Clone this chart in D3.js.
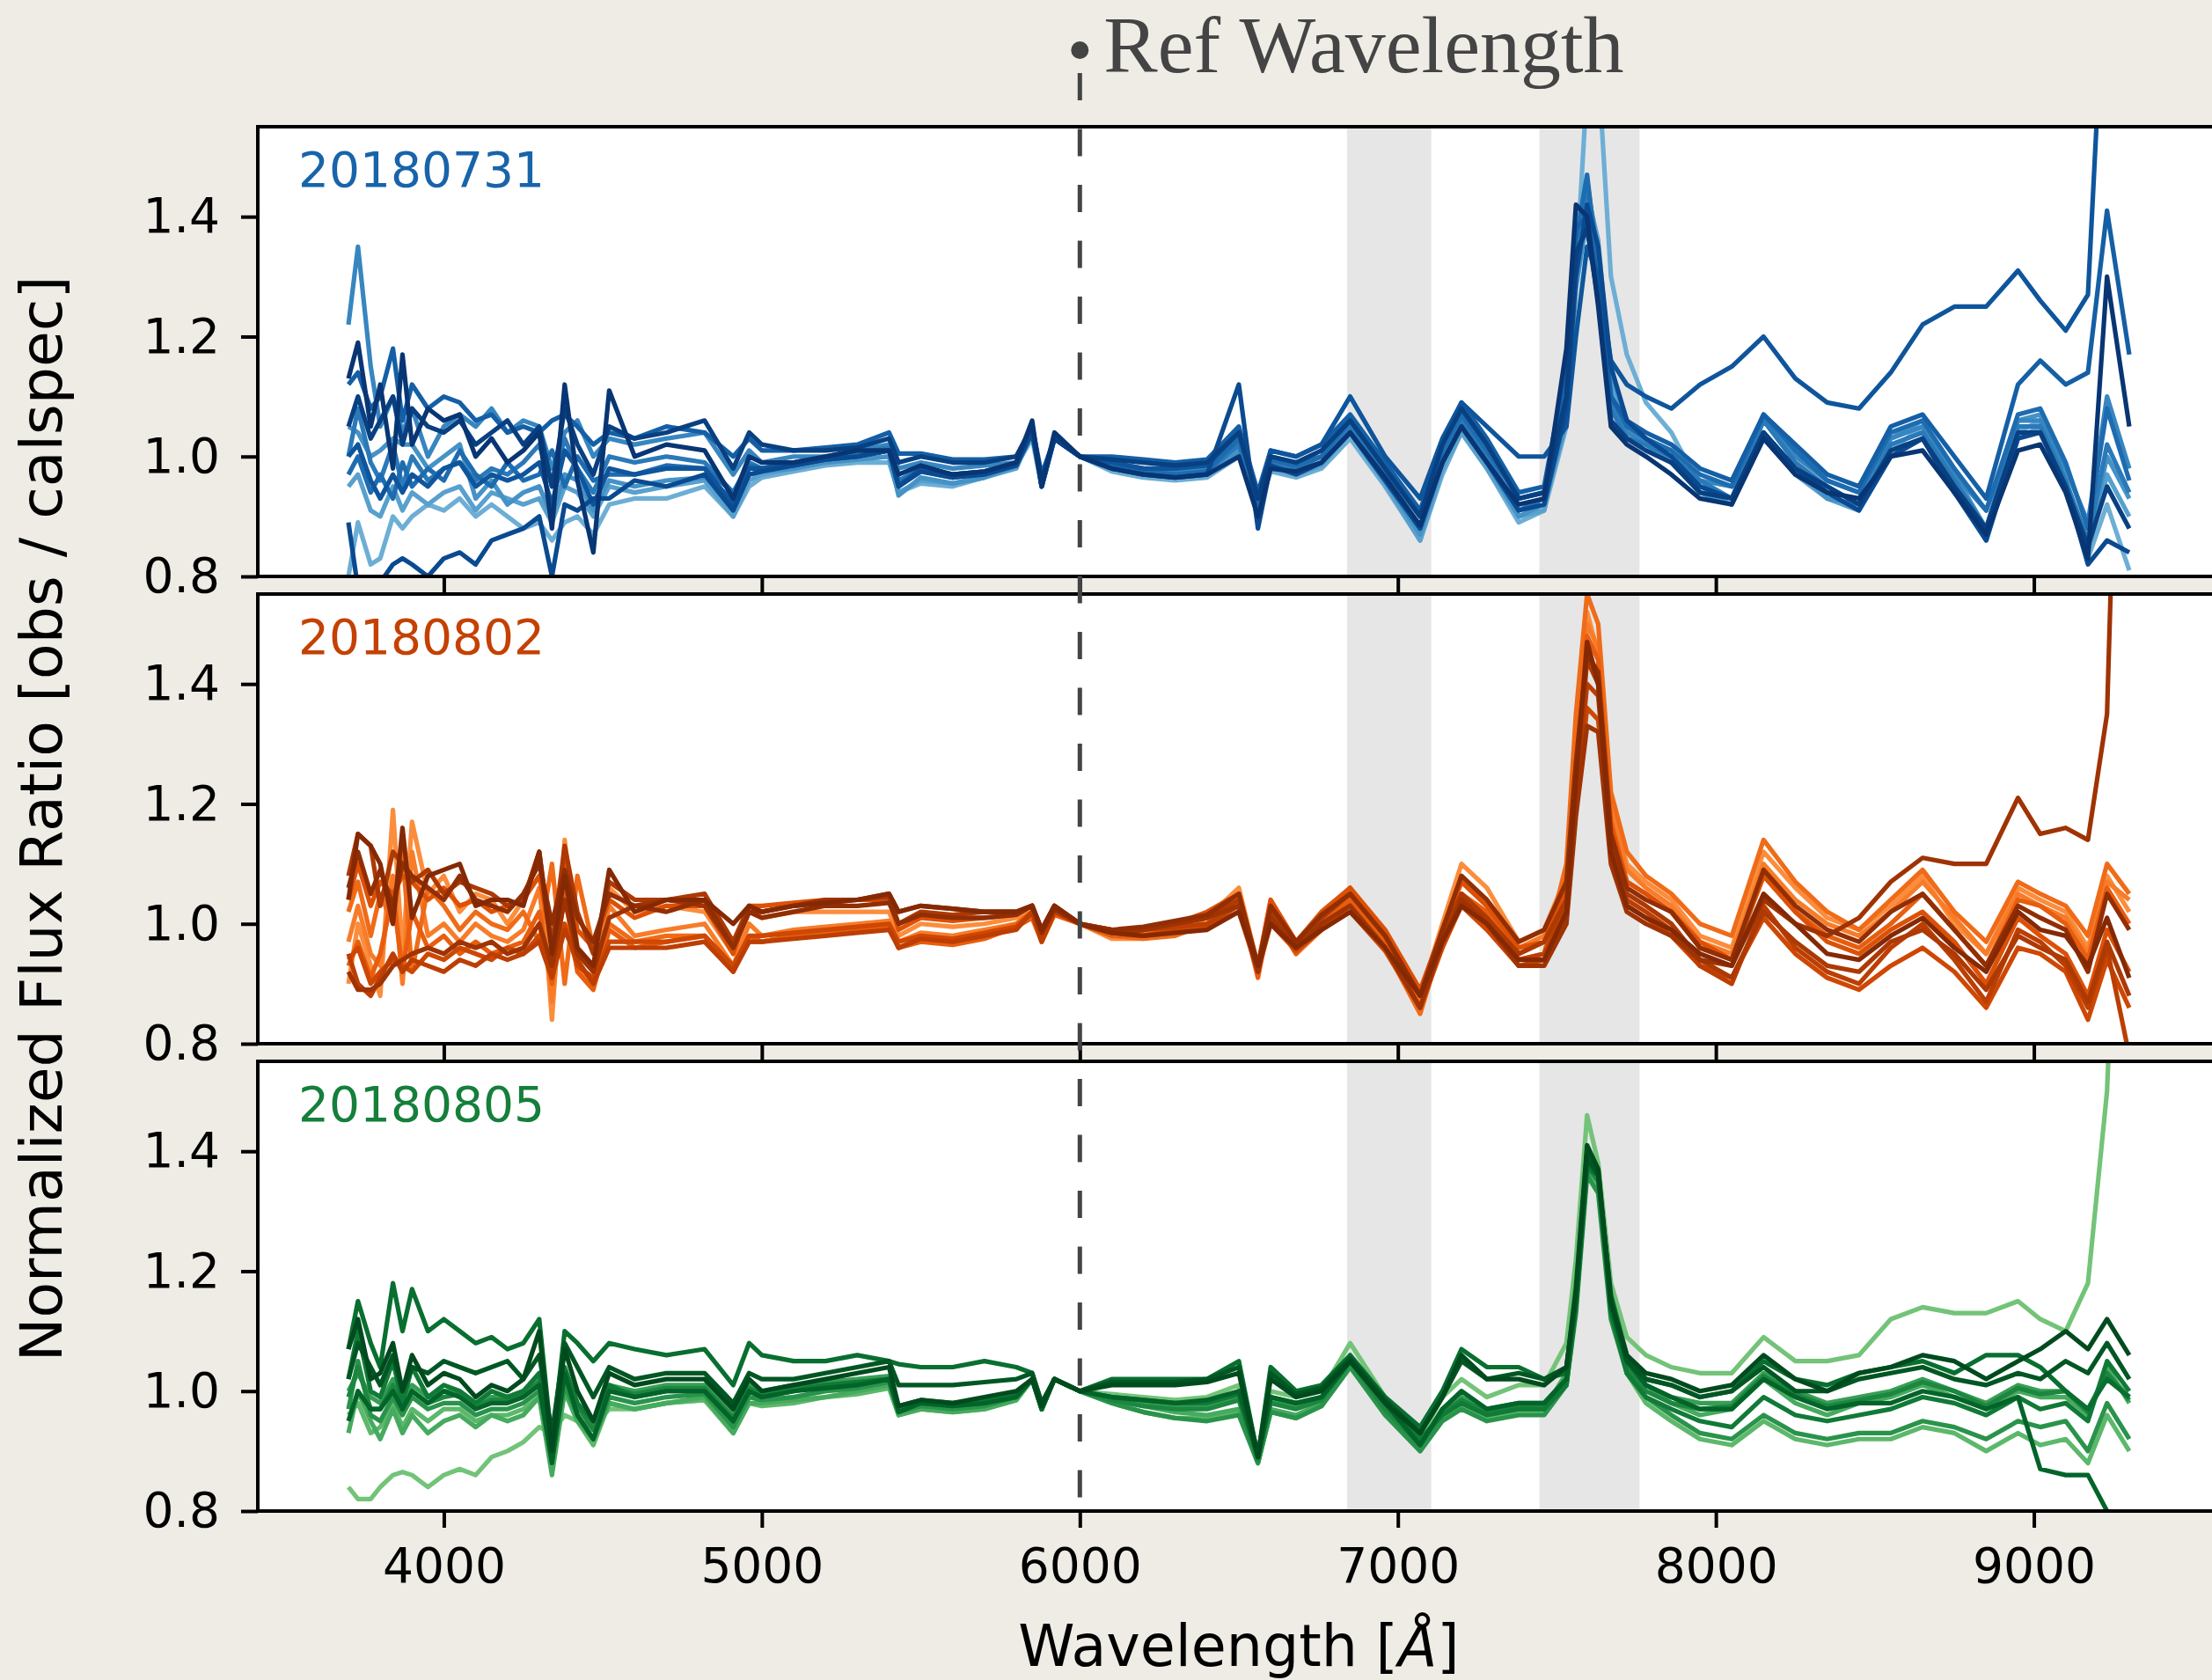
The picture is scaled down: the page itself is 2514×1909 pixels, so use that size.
<!DOCTYPE html>
<html><head><meta charset="utf-8">
<script src="https://cdn.jsdelivr.net/npm/d3@7"></script>
<style>html,body{margin:0;padding:0;background:#efece6;} svg{display:block;}</style>
</head><body>
<svg id="chart" width="2514" height="1909"></svg>
<script>
// ---------------- DATA ----------------
const wavelengths = [3700,3730,3770,3800,3840,3870,3900,3950,4000,4050,
  4100,4150,4200,4250,4300,4340,4380,4420,4470,4520,
  4600,4700,4820,4910,4960,5000,5100,5200,5300,5400,
  5430,5500,5600,5700,5800,5850,5880,5920,6000,6100,
  6200,6300,6400,6500,6560,6600,6680,6760,6850,6960,
  7070,7140,7200,7280,7380,7460,7530,7560,7595,7630,
  7670,7720,7780,7860,7950,8050,8150,8250,8350,8450,
  8550,8650,8750,8850,8950,9020,9100,9170,9230,9300];

const nights = ["20180731", "20180802", "20180805"];
const xTicks = [4000, 5000, 6000, 7000, 8000, 9000];
const yTicks = [0.8, 1.0, 1.2, 1.4];
const refWavelength = 6000;
const telluricBands = [[6840, 7105], [7445, 7760]];
const seriesShade = [0.50, 0.56, 0.62, 0.67, 0.72, 0.77, 0.82, 0.86, 0.90, 0.94, 0.98];

const ratio20180731 = [
 [0.80,0.89,0.82,0.83,0.90,0.88,0.90,0.92,0.91,0.93, 0.90,0.92,0.90,0.88,0.89,0.86,0.89,0.90,0.87,0.92,
  0.93,0.93,0.95,0.90,0.95,0.965,0.975,0.985,0.99,0.99, 0.94,0.955,0.95,0.965,0.985,1.03,0.95,1.03,1.00,0.975,
  0.965,0.96,0.965,1.00,0.91,0.975,0.965,0.98,1.03,0.95, 0.86,0.97,1.04,0.98,0.89,0.91,1.05,1.30,1.62,1.65,
  1.30,1.17,1.09,1.04,0.95,0.93,1.04,0.98,0.93,0.91, 1.01,1.05,0.95,0.86,1.04,1.06,0.95,0.83,0.92,0.81],
 [0.95,0.97,0.91,0.90,0.95,0.91,0.94,0.92,0.94,0.95, 0.91,0.94,0.93,0.92,0.93,0.89,0.95,0.94,0.90,0.95,
  0.94,0.95,0.96,0.90,0.96,0.97,0.98,0.99,0.995,1.00, 0.94,0.96,0.955,0.965,0.98,1.04,0.95,1.03,1.00,0.98,
  0.97,0.965,0.97,1.01,0.91,0.98,0.97,0.985,1.04,0.955, 0.86,0.98,1.04,0.98,0.90,0.91,1.08,1.30,1.44,1.36,
  1.12,1.05,1.02,0.99,0.94,0.92,1.03,0.97,0.93,0.91, 1.00,1.03,0.95,0.87,1.03,1.05,0.95,0.84,0.97,0.90],
 [1.05,1.04,1.00,1.01,1.03,1.02,1.02,0.98,1.00,1.02, 0.93,0.96,0.92,0.94,0.95,0.90,0.97,0.96,0.91,0.96,
  0.95,0.96,0.965,0.93,0.97,0.975,0.98,0.99,0.995,1.00, 0.935,0.965,0.955,0.965,0.985,1.05,0.95,1.035,1.00,0.98,
  0.97,0.965,0.97,1.01,0.91,0.985,0.975,0.99,1.04,0.96, 0.87,0.99,1.05,0.99,0.90,0.92,1.06,1.28,1.40,1.34,
  1.14,1.06,1.02,0.99,0.94,0.92,1.04,0.98,0.93,0.92, 1.03,1.06,0.97,0.88,1.06,1.07,0.96,0.85,1.00,0.93],
 [1.22,1.35,1.15,1.05,1.10,1.04,1.08,1.00,1.05,1.07, 1.05,1.08,1.04,1.06,1.05,0.98,1.04,1.06,1.00,1.03,
  1.02,1.03,1.04,0.97,1.01,0.99,1.00,1.00,1.01,1.02, 0.98,0.99,0.98,0.985,0.99,1.04,0.96,1.03,1.00,0.99,
  0.98,0.975,0.98,1.03,0.93,1.00,0.99,1.00,1.05,0.975, 0.90,1.01,1.07,1.01,0.93,0.94,1.10,1.32,1.46,1.33,
  1.09,1.04,1.02,1.00,0.96,0.95,1.06,1.00,0.96,0.94, 1.03,1.05,0.97,0.91,1.06,1.06,0.98,0.89,1.10,0.98],
 [1.00,1.08,0.99,0.96,1.02,0.95,1.00,0.96,0.98,0.99, 0.96,0.98,0.97,0.99,1.02,0.95,1.03,0.98,0.94,1.00,
  0.99,1.00,0.99,0.94,0.99,0.98,0.99,1.00,1.005,1.015, 0.96,0.98,0.97,0.975,0.99,1.05,0.95,1.03,1.00,0.99,
  0.975,0.97,0.975,1.02,0.92,0.99,0.98,1.00,1.05,0.97, 0.88,1.00,1.06,1.00,0.91,0.93,1.12,1.36,1.45,1.30,
  1.08,1.03,1.02,1.00,0.96,0.93,1.06,0.99,0.95,0.92, 1.02,1.04,0.96,0.88,1.05,1.05,0.96,0.86,1.02,0.94],
 [0.97,1.00,0.94,0.97,0.93,0.99,0.95,0.98,0.96,1.01, 0.97,0.95,0.99,0.96,0.97,1.01,0.95,1.00,0.96,0.97,
  0.97,0.985,0.98,0.94,0.985,0.98,0.99,0.995,1.00,1.01, 0.955,0.975,0.965,0.975,0.99,1.05,0.96,1.03,1.00,0.985,
  0.975,0.97,0.975,1.03,0.92,0.995,0.985,1.00,1.06,0.98, 0.90,1.01,1.07,1.01,0.93,0.94,1.12,1.36,1.47,1.31,
  1.10,1.05,1.03,1.01,0.97,0.95,1.07,1.01,0.96,0.94, 1.04,1.06,0.98,0.91,1.07,1.08,0.99,0.88,1.08,0.96],
 [1.12,1.14,1.08,1.10,1.18,1.06,1.12,1.08,1.10,1.09, 1.06,1.07,1.04,1.05,1.04,1.06,1.07,1.05,1.02,1.04,
  1.03,1.05,1.04,1.00,1.03,1.01,1.01,1.015,1.02,1.04, 1.005,1.005,0.995,0.995,1.00,1.05,0.97,1.03,1.00,1.00,
  0.995,0.99,0.995,1.05,0.94,1.01,1.00,1.02,1.07,0.99, 0.91,1.02,1.09,1.03,0.94,0.95,1.15,1.38,1.40,1.28,
  1.10,1.06,1.04,1.02,0.98,0.96,1.07,1.02,0.97,0.95, 1.05,1.07,1.00,0.93,1.12,1.16,1.12,1.14,1.41,1.17],
 [1.00,1.02,0.96,0.93,0.97,0.94,0.97,0.95,0.98,0.99, 0.95,0.97,0.96,0.97,0.99,0.92,1.01,0.98,0.92,0.98,
  0.97,0.98,0.98,0.92,0.98,0.98,0.985,0.995,1.00,1.01, 0.95,0.98,0.97,0.975,0.985,1.04,0.96,1.03,1.00,0.99,
  0.98,0.98,0.985,1.04,0.93,1.01,1.00,1.02,1.10,1.00, 0.93,1.03,1.09,1.05,1.00,1.00,1.05,1.20,1.35,1.30,
  1.16,1.12,1.10,1.08,1.12,1.15,1.20,1.13,1.09,1.08, 1.14,1.22,1.25,1.25,1.31,1.26,1.21,1.27,1.90,2.20],
 [0.89,0.78,0.76,0.79,0.82,0.83,0.82,0.80,0.83,0.84, 0.82,0.86,0.87,0.88,0.90,0.80,0.92,0.91,0.93,0.93,
  0.96,0.95,0.97,0.91,0.97,0.975,0.985,0.995,1.00,1.01, 0.95,0.975,0.965,0.97,0.985,1.04,0.95,1.03,1.00,0.98,
  0.97,0.965,0.97,1.12,0.88,0.985,0.97,0.99,1.04,0.96, 0.88,0.99,1.05,0.99,0.91,0.92,1.08,1.30,1.42,1.35,
  1.15,1.06,1.03,1.00,0.95,0.93,1.04,0.98,0.94,0.91, 1.00,1.03,0.94,0.86,1.03,1.04,0.95,0.82,0.86,0.84],
 [1.05,1.10,1.03,1.06,1.10,1.02,1.08,1.05,1.04,1.06, 1.02,1.04,1.06,1.02,1.05,0.95,1.08,1.02,0.97,1.05,
  1.03,1.04,1.06,0.98,1.04,1.02,1.01,1.01,1.015,1.03, 0.99,1.00,0.99,0.99,1.00,1.05,0.96,1.03,1.00,0.995,
  0.99,0.985,0.99,1.04,0.93,1.00,0.99,1.01,1.06,0.98, 0.90,1.02,1.08,1.02,0.93,0.94,1.10,1.34,1.38,1.26,
  1.06,1.03,1.01,0.99,0.94,0.93,1.04,0.98,0.95,0.92, 1.01,1.03,0.95,0.88,1.04,1.04,0.95,0.85,0.95,0.88],
 [1.13,1.19,1.05,1.12,0.98,1.17,1.02,1.08,1.06,1.07, 1.00,1.03,0.99,1.01,1.04,0.88,1.12,0.96,0.84,1.11,
  1.00,1.02,1.01,0.93,1.00,0.99,0.99,1.00,1.01,1.01, 0.97,0.985,0.97,0.975,0.99,1.06,0.95,1.04,1.00,0.98,
  0.97,0.965,0.97,1.00,0.90,0.98,0.975,0.99,1.04,0.965, 0.885,0.99,1.05,0.99,0.92,0.93,1.18,1.42,1.40,1.25,
  1.05,1.02,1.00,0.97,0.93,0.92,1.03,0.97,0.94,0.93, 1.00,1.01,0.94,0.87,1.01,1.02,0.94,0.83,1.30,1.05]
];

const ratio20180802 = [
 [0.90,1.00,0.93,0.88,1.19,0.95,1.17,1.05,1.08,1.02, 1.05,1.04,1.00,1.04,1.12,0.84,1.14,0.96,0.93,1.06,
  1.02,1.03,1.02,0.95,1.02,1.01,1.02,1.02,1.02,1.02, 0.98,1.00,0.995,1.00,1.01,1.02,0.98,1.02,1.00,0.975,
  0.975,0.985,1.01,1.06,0.93,1.04,0.96,1.01,1.06,0.98, 0.88,1.00,1.10,1.06,0.97,0.99,1.08,1.30,1.52,1.45,
  1.20,1.10,1.07,1.04,0.98,0.96,1.12,1.06,1.01,0.99, 1.03,1.08,1.00,0.95,1.06,1.04,1.02,0.96,1.08,1.02],
 [0.97,1.03,0.95,0.93,1.08,0.90,1.12,0.98,1.00,0.97, 1.00,0.98,0.97,0.99,1.06,0.87,1.07,0.93,0.90,1.03,
  0.98,0.99,1.00,0.93,1.00,0.98,0.99,0.995,1.00,1.005, 0.97,0.985,0.98,0.99,1.00,1.02,0.975,1.02,1.00,0.98,
  0.985,0.99,1.01,1.05,0.92,1.03,0.96,1.00,1.05,0.97, 0.87,0.98,1.07,1.03,0.96,0.98,1.07,1.28,1.50,1.46,
  1.19,1.09,1.06,1.03,0.97,0.95,1.10,1.04,1.00,0.98, 1.02,1.07,1.01,0.95,1.05,1.03,1.01,0.95,1.07,1.04],
 [1.02,1.07,0.98,1.05,1.00,1.12,0.92,1.06,1.03,0.99, 1.02,1.00,0.99,1.02,0.97,1.10,0.90,1.08,0.96,1.00,
  0.97,0.98,0.98,0.93,0.97,0.97,0.98,0.985,0.99,0.995, 0.96,0.975,0.975,0.985,1.00,1.02,0.975,1.02,1.00,0.98,
  0.975,0.98,1.00,1.04,0.92,1.02,0.95,0.99,1.03,0.96, 0.85,0.97,1.05,1.01,0.94,0.95,1.10,1.35,1.55,1.50,
  1.22,1.12,1.08,1.05,1.00,0.98,1.14,1.07,1.02,0.99, 1.04,1.09,1.02,0.97,1.07,1.05,1.03,0.98,1.10,1.05],
 [0.93,0.97,0.91,0.95,1.05,0.92,1.02,0.96,0.98,0.95, 0.97,0.95,0.96,0.97,1.02,0.90,1.05,0.92,0.89,0.99,
  0.96,0.97,0.98,0.92,0.98,0.97,0.98,0.99,0.99,0.995, 0.96,0.97,0.965,0.975,0.995,1.01,0.97,1.015,1.00,0.98,
  0.98,0.985,1.00,1.04,0.91,1.02,0.95,1.00,1.04,0.97, 0.86,0.97,1.05,1.02,0.95,0.97,1.04,1.22,1.48,1.44,
  1.17,1.07,1.05,1.02,0.96,0.94,1.08,1.02,0.98,0.96, 1.00,1.05,0.99,0.93,1.04,1.03,1.00,0.94,1.06,1.00],
 [1.04,1.10,1.03,1.07,1.05,1.08,1.07,1.04,1.06,1.03, 1.04,1.02,1.03,1.04,1.08,0.97,1.10,0.99,0.96,1.04,
  1.01,1.03,1.03,0.95,1.03,1.03,1.035,1.04,1.04,1.04, 0.99,1.01,1.005,1.01,1.015,1.03,0.98,1.02,1.00,0.985,
  0.99,1.00,1.02,1.05,0.93,1.04,0.97,1.02,1.06,0.99, 0.89,0.99,1.07,1.03,0.96,0.97,1.06,1.26,1.47,1.40,
  1.16,1.07,1.05,1.02,0.97,0.94,1.08,1.02,0.97,0.95, 0.99,1.02,0.97,0.90,1.01,0.98,0.95,0.88,0.99,0.92],
 [0.94,0.96,0.90,0.92,0.94,0.93,0.92,0.95,0.94,0.96, 0.95,0.94,0.96,0.95,0.98,0.92,1.00,0.93,0.91,0.97,
  0.97,0.97,0.98,0.93,0.98,0.98,0.985,0.99,0.995,1.00, 0.97,0.98,0.975,0.985,0.995,1.02,0.975,1.02,1.00,0.985,
  0.98,0.99,0.995,1.02,0.92,1.00,0.955,0.99,1.02,0.955, 0.86,0.96,1.03,0.99,0.93,0.94,1.01,1.19,1.36,1.34,
  1.11,1.03,1.01,0.98,0.93,0.91,1.01,0.95,0.91,0.89, 0.93,0.96,0.92,0.86,0.96,0.95,0.92,0.84,0.94,0.86],
 [0.95,0.90,0.88,0.91,0.95,0.92,0.94,0.93,0.92,0.94, 0.93,0.95,0.94,0.95,0.97,0.91,0.99,0.94,0.90,0.96,
  0.96,0.96,0.97,0.92,0.97,0.97,0.975,0.98,0.985,0.99, 0.96,0.975,0.97,0.98,0.99,1.02,0.97,1.02,1.00,0.99,
  0.99,0.995,1.00,1.03,0.92,1.02,0.96,1.00,1.03,0.96, 0.86,0.97,1.04,1.00,0.94,0.95,1.03,1.20,1.40,1.38,
  1.14,1.04,1.02,0.99,0.93,0.90,1.03,0.96,0.92,0.90, 0.96,1.00,0.94,0.87,0.99,0.97,0.93,0.86,0.96,0.78],
 [1.08,1.15,1.13,1.03,1.12,1.10,1.07,1.09,1.05,1.07, 1.06,1.05,1.03,1.04,1.12,0.96,1.13,1.02,0.95,1.07,
  1.04,1.04,1.05,0.97,1.03,1.02,1.03,1.035,1.04,1.045, 1.00,1.02,1.015,1.02,1.02,1.03,0.99,1.03,1.00,0.99,
  0.99,1.00,1.01,1.04,0.93,1.02,0.97,1.01,1.05,0.98, 0.88,0.98,1.05,1.01,0.95,0.97,1.04,1.22,1.44,1.40,
  1.13,1.05,1.03,1.00,0.94,0.91,1.02,0.97,0.93,0.92, 0.97,0.99,0.95,0.89,0.98,0.96,0.94,0.87,0.97,0.88],
 [0.92,0.89,0.89,0.90,0.93,0.94,0.95,0.96,0.95,0.97, 0.96,0.97,0.95,0.96,1.00,0.93,1.04,0.95,0.92,1.01,
  1.03,1.04,1.03,0.96,1.02,1.02,1.03,1.04,1.04,1.05, 1.02,1.03,1.025,1.02,1.02,1.03,0.99,1.03,1.00,0.985,
  0.99,1.00,1.01,1.03,0.92,1.01,0.96,1.00,1.03,0.96, 0.86,0.97,1.04,1.00,0.93,0.93,1.00,1.18,1.33,1.32,
  1.10,1.02,1.00,0.98,0.94,0.93,1.04,1.00,0.98,1.01, 1.07,1.11,1.10,1.10,1.21,1.15,1.16,1.14,1.35,2.60],
 [1.06,1.12,1.05,1.09,1.03,1.10,1.08,1.06,1.04,1.08, 1.04,1.03,1.02,1.05,1.10,1.00,1.09,1.01,0.97,1.05,
  1.03,1.02,1.04,0.96,1.02,1.01,1.02,1.03,1.03,1.035, 1.00,1.015,1.01,1.01,1.015,1.03,0.985,1.025,1.00,0.99,
  0.995,1.005,1.015,1.05,0.93,1.03,0.97,1.015,1.05,0.98, 0.88,0.99,1.08,1.04,0.97,0.99,1.07,1.27,1.45,1.42,
  1.15,1.06,1.04,1.02,0.96,0.94,1.09,1.03,0.99,0.97, 1.02,1.05,0.99,0.93,1.03,1.01,0.99,0.92,1.05,0.99],
 [1.04,1.15,1.13,1.10,1.00,1.16,1.01,1.08,1.09,1.10, 1.03,1.04,1.04,1.03,1.12,0.95,1.08,0.96,0.93,1.09,
  1.02,1.04,1.04,1.00,1.03,1.02,1.03,1.035,1.04,1.05, 1.02,1.03,1.025,1.02,1.02,1.03,0.99,1.03,1.00,0.985,
  0.98,0.985,0.99,1.02,0.93,1.00,0.96,0.99,1.02,0.96, 0.88,0.97,1.03,1.00,0.94,0.94,1.02,1.24,1.47,1.40,
  1.12,1.03,1.01,0.99,0.95,0.93,1.05,1.00,0.95,0.94, 0.98,1.01,0.96,0.92,1.02,0.99,0.98,0.93,1.01,0.91]
];

const ratio20180805 = [
 [0.84,0.82,0.82,0.84,0.86,0.865,0.86,0.84,0.86,0.87, 0.86,0.89,0.90,0.915,0.94,0.93,0.96,0.95,0.94,0.97,
  0.97,0.98,0.985,0.94,0.99,0.985,0.99,1.00,1.005,1.01, 0.97,0.975,0.97,0.975,0.985,1.02,0.97,1.02,1.00,0.995,
  0.99,0.985,0.99,1.01,0.90,1.00,0.99,1.00,1.08,0.99, 0.92,0.99,1.02,0.99,1.01,1.01,1.08,1.22,1.46,1.38,
  1.18,1.09,1.06,1.04,1.03,1.03,1.09,1.05,1.05,1.06, 1.12,1.14,1.13,1.13,1.15,1.12,1.10,1.18,1.50,2.40],
 [0.96,0.98,0.93,0.94,0.98,0.94,0.97,0.95,0.97,0.97, 0.95,0.96,0.96,0.97,0.99,0.87,1.00,0.95,0.91,0.98,
  0.97,0.98,0.985,0.93,0.98,0.975,0.98,0.99,0.995,1.005, 0.96,0.97,0.965,0.97,0.985,1.02,0.97,1.02,1.00,0.98,
  0.965,0.955,0.955,0.965,0.88,0.965,0.955,0.975,1.04,0.965, 0.90,0.955,0.975,0.955,0.965,0.965,1.01,1.14,1.37,1.34,
  1.13,1.03,0.98,0.95,0.92,0.91,0.95,0.92,0.91,0.92, 0.92,0.94,0.93,0.90,0.93,0.91,0.92,0.88,0.96,0.90],
 [0.93,1.00,0.95,0.92,0.97,0.93,0.96,0.93,0.95,0.96, 0.94,0.96,0.95,0.96,0.99,0.86,1.00,0.95,0.92,0.98,
  0.97,0.98,0.99,0.93,0.98,0.98,0.985,0.99,1.00,1.01, 0.96,0.97,0.965,0.97,0.985,1.02,0.97,1.02,1.00,0.985,
  0.975,0.965,0.96,0.97,0.88,0.97,0.96,0.98,1.05,0.97, 0.91,0.96,0.99,0.96,0.97,0.97,1.03,1.18,1.40,1.36,
  1.14,1.05,1.01,0.98,0.96,0.97,1.02,0.98,0.96,0.98, 0.99,1.01,0.99,0.97,1.00,0.99,0.99,0.96,1.04,0.98],
 [1.00,1.03,0.99,0.98,1.02,0.99,1.01,0.99,1.00,1.00, 0.98,0.99,0.99,1.00,1.02,0.92,1.03,0.98,0.94,1.01,
  1.00,1.01,1.01,0.96,1.01,1.00,1.01,1.015,1.02,1.025, 0.97,0.98,0.975,0.98,0.99,1.02,0.97,1.02,1.00,0.99,
  0.98,0.975,0.975,0.99,0.89,0.985,0.975,0.99,1.05,0.975, 0.91,0.97,0.99,0.97,0.98,0.98,1.02,1.15,1.37,1.35,
  1.16,1.05,1.01,0.99,0.98,0.98,1.03,1.00,0.98,0.99, 1.00,1.02,1.00,0.98,1.01,1.00,1.00,0.97,1.03,0.99],
 [0.97,1.05,0.96,0.95,0.99,0.96,0.99,0.97,0.98,0.98, 0.96,0.97,0.97,0.98,1.00,0.89,1.01,0.96,0.92,0.99,
  0.98,0.99,0.995,0.94,0.99,0.985,0.99,1.00,1.005,1.015, 0.965,0.975,0.97,0.975,0.99,1.02,0.97,1.02,1.00,0.98,
  0.965,0.955,0.95,0.96,0.88,0.965,0.955,0.975,1.04,0.96, 0.90,0.95,0.97,0.95,0.96,0.96,1.01,1.13,1.36,1.33,
  1.12,1.03,0.99,0.96,0.93,0.92,0.96,0.93,0.92,0.93, 0.93,0.95,0.94,0.92,0.95,0.94,0.95,0.90,0.98,0.92],
 [0.99,1.04,0.97,0.97,1.01,0.97,1.00,0.98,0.99,0.995, 0.975,0.985,0.985,0.995,1.015,0.91,1.025,0.975,0.935,1.005,
  0.995,1.005,1.005,0.955,1.005,0.995,1.005,1.01,1.015,1.02, 0.97,0.98,0.975,0.98,0.99,1.02,0.97,1.02,1.00,0.985,
  0.975,0.97,0.97,0.985,0.885,0.98,0.97,0.985,1.05,0.97, 0.91,0.965,0.985,0.965,0.975,0.975,1.015,1.15,1.38,1.35,
  1.15,1.04,1.00,0.98,0.97,0.975,1.025,0.995,0.975,0.985, 0.995,1.015,1.00,0.975,1.005,0.995,1.00,0.965,1.03,0.985],
 [1.02,1.10,1.00,0.99,1.05,0.98,1.04,0.99,1.01,1.00, 0.98,1.00,0.99,1.00,1.03,0.91,1.04,0.98,0.95,1.01,
  0.99,1.00,1.00,0.95,1.00,0.99,1.00,1.01,1.015,1.02, 0.975,0.985,0.98,0.985,0.995,1.02,0.975,1.02,1.00,0.99,
  0.985,0.98,0.98,0.995,0.89,0.99,0.98,0.99,1.05,0.98, 0.92,0.96,0.98,0.96,0.97,0.97,1.01,1.14,1.37,1.36,
  1.13,1.03,0.99,0.97,0.95,0.94,0.99,0.96,0.95,0.96, 0.97,0.99,0.98,0.96,0.99,0.97,0.98,0.95,1.05,1.00],
 [1.07,1.15,1.08,1.04,1.18,1.10,1.17,1.10,1.12,1.10, 1.08,1.09,1.07,1.08,1.12,0.91,1.10,1.08,1.05,1.08,
  1.07,1.06,1.07,1.01,1.08,1.06,1.05,1.05,1.06,1.05, 1.045,1.04,1.04,1.05,1.04,1.03,0.98,1.02,1.00,1.02,
  1.02,1.02,1.02,1.05,0.89,1.04,1.00,1.01,1.06,0.99, 0.94,1.00,1.07,1.04,1.04,1.02,1.03,1.15,1.38,1.36,
  1.16,1.06,1.02,1.01,0.99,1.00,1.05,1.02,1.01,1.03, 1.04,1.05,1.03,1.06,1.06,1.04,1.00,0.97,1.02,0.99],
 [0.95,1.00,0.97,0.97,1.00,0.97,1.00,0.98,1.00,0.99, 0.97,0.98,0.98,0.99,1.01,0.88,1.03,0.96,0.92,1.00,
  0.99,1.00,1.00,0.95,1.00,0.99,1.00,1.005,1.01,1.02, 0.965,0.98,0.975,0.98,0.99,1.02,0.97,1.02,1.00,0.99,
  0.985,0.98,0.985,1.00,0.89,0.99,0.98,0.99,1.05,0.98, 0.91,0.97,1.00,0.97,0.98,0.98,1.02,1.16,1.40,1.37,
  1.14,1.05,1.01,0.99,0.97,0.97,1.02,0.99,0.97,0.98, 0.98,1.00,0.99,0.97,0.99,0.87,0.86,0.86,0.80,0.72],
 [1.02,1.08,1.04,1.01,1.06,1.00,1.04,1.03,1.05,1.04, 1.03,1.04,1.05,1.02,1.06,0.93,1.08,1.04,0.99,1.04,
  1.02,1.03,1.03,0.98,1.03,1.02,1.02,1.03,1.04,1.05, 1.01,1.01,1.01,1.015,1.02,1.03,0.98,1.02,1.00,1.015,
  1.015,1.015,1.02,1.04,0.89,1.03,0.995,1.005,1.055,0.985, 0.93,0.99,1.05,1.02,1.03,1.02,1.04,1.16,1.39,1.36,
  1.15,1.05,1.02,1.01,0.99,1.00,1.04,1.00,1.00,1.02, 1.03,1.04,1.02,1.01,1.03,1.02,1.05,1.03,1.08,1.02],
 [1.07,1.12,1.02,1.03,1.08,1.00,1.06,1.01,1.03,1.02, 0.99,1.01,1.00,1.02,1.10,0.90,1.07,1.00,0.95,1.03,
  1.01,1.02,1.02,0.97,1.02,1.00,1.01,1.02,1.03,1.04, 0.975,0.985,0.98,0.99,1.00,1.02,0.975,1.02,1.00,1.01,
  1.01,1.01,1.015,1.03,0.89,1.02,0.99,1.00,1.05,0.98, 0.93,0.99,1.06,1.02,1.02,1.01,1.04,1.17,1.41,1.37,
  1.15,1.06,1.03,1.02,1.00,1.01,1.06,1.02,1.00,1.03, 1.04,1.06,1.05,1.02,1.05,1.07,1.10,1.07,1.12,1.06]
];

const panels = [
  { night: nights[0], series: ratio20180731, cmap: d3.interpolateBlues },
  { night: nights[1], series: ratio20180802, cmap: d3.interpolateOranges },
  { night: nights[2], series: ratio20180805, cmap: d3.interpolateGreens }
];

// ---------------- LAYOUT ----------------
const W = 2514, H = 1909;
const plotLeft = 293, plotRight = 2523;
const panelTops = [144, 675, 1206], panelH = 511;
const font = "DejaVu Sans";

const svg = d3.select("#chart");
svg.append("rect").attr("width", W).attr("height", H).attr("fill", "#efece6");

const x = d3.scaleLinear().domain([3415, 9585]).range([plotLeft, plotRight]);

panels.forEach((p, i) => {
  const top = panelTops[i];
  const y = d3.scaleLinear().domain([0.8, 1.55]).range([top + panelH, top]);
  const g = svg.append("g");

  g.append("rect").attr("x", plotLeft).attr("y", top)
    .attr("width", plotRight - plotLeft).attr("height", panelH).attr("fill", "#ffffff");

  const clipId = "clip" + i;
  svg.append("clipPath").attr("id", clipId).append("rect")
    .attr("x", plotLeft).attr("y", top).attr("width", plotRight - plotLeft).attr("height", panelH);

  g.selectAll("rect.band").data(telluricBands).enter().append("rect")
    .attr("class", "band")
    .attr("x", d => x(d[0])).attr("width", d => x(d[1]) - x(d[0]))
    .attr("y", top).attr("height", panelH).attr("fill", "#e6e6e6");

  const line = d3.line().x((d, k) => x(wavelengths[k])).y(d => y(d));
  const lg = g.append("g").attr("clip-path", `url(#${clipId})`);
  p.series.forEach((s, k) => {
    lg.append("path").attr("d", line(s))
      .attr("fill", "none")
      .attr("stroke", p.cmap(seriesShade[k]))
      .attr("stroke-width", 5.2)
      .attr("stroke-linejoin", "round");
  });

  const ya = g.append("g").attr("transform", `translate(${plotLeft},0)`)
    .call(d3.axisLeft(y).tickValues(yTicks).tickSize(19).tickPadding(24).tickFormat(d3.format(".1f")));
  const xa = g.append("g").attr("transform", `translate(0,${top + panelH})`)
    .call(d3.axisBottom(x).tickValues(xTicks).tickSize(19).tickPadding(23)
      .tickFormat(i === 2 ? d3.format("d") : () => ""));
  [ya, xa].forEach(a => {
    a.select(".domain").remove();
    a.selectAll(".tick line").attr("stroke", "#000").attr("stroke-width", 4);
    a.selectAll(".tick text").attr("fill", "#000").attr("font-family", font).attr("font-size", 55);
  });

  g.append("rect").attr("x", plotLeft).attr("y", top)
    .attr("width", plotRight - plotLeft).attr("height", panelH)
    .attr("fill", "none").attr("stroke", "#000").attr("stroke-width", 4);

  g.append("text").attr("x", plotLeft + 46).attr("y", top + 68)
    .attr("font-family", font).attr("font-size", 55)
    .attr("fill", p.cmap(0.8)).text(p.night);
});

// reference wavelength marker
const xr = x(refWavelength);
svg.append("line").attr("x1", xr).attr("x2", xr).attr("y1", 83).attr("y2", panelTops[2] + panelH)
  .attr("stroke", "#444").attr("stroke-width", 5).attr("stroke-dasharray", "31,32.5");
svg.append("circle").attr("cx", xr).attr("cy", 57).attr("r", 10).attr("fill", "#444");
svg.append("text").attr("x", xr + 27).attr("y", 82)
  .attr("font-family", "Liberation Serif").attr("font-size", 92).attr("fill", "#444")
  .text("Ref Wavelength");

// axis labels
const xl = svg.append("text").attr("x", (plotLeft + plotRight) / 2).attr("y", 1893)
  .attr("text-anchor", "middle").attr("font-family", font).attr("font-size", 65).attr("fill", "#000");
xl.append("tspan").text("Wavelength [");
xl.append("tspan").attr("font-style", "italic").text("Å");
xl.append("tspan").text("]");

svg.append("text").attr("transform", `translate(70,${(panelTops[0] + panelTops[2] + panelH) / 2}) rotate(-90)`)
  .attr("text-anchor", "middle").attr("font-family", font).attr("font-size", 66.5).attr("fill", "#000")
  .text("Normalized Flux Ratio [obs / calspec]");
</script>
</body></html>
